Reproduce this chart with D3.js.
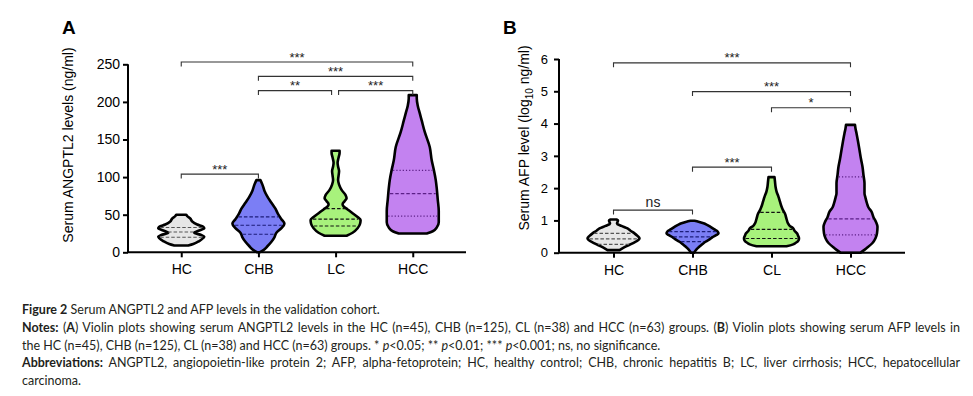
<!DOCTYPE html>
<html>
<head>
<meta charset="utf-8">
<script src="https://cdn.jsdelivr.net/npm/d3@7"></script>
<style>
  html, body { margin: 0; padding: 0; background: #fff; }
  svg { display: block; }
</style>
</head>
<body>
<svg id="chart" width="973" height="396"></svg>
<script>
// ---- data ----
const groupsA = ['HC', 'CHB', 'LC', 'HCC'];
const groupsB = ['HC', 'CHB', 'CL', 'HCC'];
const ticksA = [0, 50, 100, 150, 200, 250];
const ticksB = [0, 1, 2, 3, 4, 5, 6];

// violin outlines: [value, density (arbitrary units)]
const hcA = [[9, 7], [11, 12], [15, 18], [19, 22], [21, 23], [23, 20], [26, 13], [29, 18], [32, 23], [34, 22], [37, 16], [41, 11], [45, 9], [48, 6], [50, 5]];
const chbA = [[0, 1], [3, 5], [8, 9], [14, 13], [20, 16], [26, 18], [32, 23], [38, 26], [44, 23], [50, 20], [58, 17], [66, 13], [74, 9], [82, 6], [90, 4], [96, 2]];
const lcA = [[22, 11], [26, 17], [32, 22], [38, 24.5], [43, 25], [47, 22], [52, 17], [57, 12], [61, 8], [64, 7], [68, 9], [72, 11], [76, 10], [83, 6], [90, 3.5], [96, 2.5], [102, 3], [108, 3.5], [114, 2.5], [119, 2], [126, 3], [132, 4], [135, 4]];
const hccA = [[25, 14], [28, 20], [33, 24], [40, 26], [55, 26], [70, 25], [85, 24], [96, 23], [110, 21], [122, 19], [140, 17], [160, 12], [175, 9], [185, 7], [195, 5], [205, 4], [209, 4]];

const hcB = [[0.08, 6], [0.17, 11], [0.29, 19], [0.4, 25], [0.45, 26], [0.52, 24], [0.6, 21], [0.68, 17], [0.75, 14], [0.83, 8], [0.9, 3.5], [0.95, 4], [1.0, 4.5], [1.03, 3]];
const chbB = [[0.0, 1.5], [0.1, 4], [0.19, 7], [0.27, 10], [0.34, 13], [0.41, 17], [0.48, 20], [0.55, 24], [0.6, 26], [0.66, 25], [0.72, 22], [0.8, 18], [0.87, 14], [0.91, 11], [0.96, 6], [0.99, 2]];
const clB = [[0.2, 15], [0.25, 21], [0.3, 24], [0.38, 27], [0.45, 27.5], [0.53, 26.5], [0.6, 25.5], [0.68, 23], [0.76, 21.5], [0.84, 18], [0.91, 16.5], [1.05, 15], [1.22, 13.3], [1.32, 11.5], [1.43, 10], [1.58, 8.5], [1.73, 7], [1.9, 5], [2.05, 4], [2.2, 3.5], [2.34, 3]];
const hccB = [[0.0, 10], [0.14, 16], [0.3, 22], [0.45, 25], [0.6, 26.5], [0.8, 27], [0.95, 25.5], [1.1, 23], [1.27, 21], [1.4, 18], [1.53, 16.5], [1.7, 15], [1.84, 14], [2.0, 14], [2.15, 14], [2.4, 13], [2.66, 12], [2.9, 10.5], [3.18, 9], [3.45, 7.5], [3.7, 6], [3.85, 5], [3.96, 4.5]];

// quartiles [Q1, median, Q3]
const quartA = [[20, 27, 33], [24, 36, 47], [35, 44, 58], [48, 78, 109]];
const quartB = [[0.26, 0.43, 0.6], [0.34, 0.49, 0.65], [0.44, 0.72, 1.25], [0.55, 1.05, 2.35]];

// significance brackets: [from, to, level, label]
const sigA = [['HC', 'HCC', 253, '***'], ['CHB', 'HCC', 234, '***'], ['CHB', 'LC', 215, '**'], ['LC', 'HCC', 215, '***'], ['HC', 'CHB', 104, '***']];
const sigB = [['HC', 'HCC', 5.88, '***'], ['CHB', 'HCC', 4.99, '***'], ['CL', 'HCC', 4.49, '*'], ['CHB', 'CL', 2.65, '***'], ['HC', 'CHB', 1.32, 'ns']];

const fills = ['#e6e6e6', '#7b7ef5', '#a8f27c', '#c382f0'];
const lineCols = ['#555555', '#1c1c7a', '#111111', '#5b1f86'];

const svg = d3.select('#chart');
svg.append('rect').attr('width', 973).attr('height', 396).attr('fill', '#fff');

const FONT = '"Liberation Sans", Arial, sans-serif';

function panel(opt) {
  const g = svg.append('g').attr('font-family', FONT);
  const x = d3.scalePoint().domain(opt.groups).range(opt.xr).padding(0.69);
  const y = d3.scaleLinear().domain([0, opt.max]).range(opt.yr);
  const w = d3.scaleLinear().domain([0, 30]).range([0, 30]);

  // violins
  opt.violins.forEach((prof, i) => {
    const cx = x(opt.groups[i]);
    const area = d3.area().curve(d3.curveMonotoneY)
      .y(d => y(d[0]))
      .x0(d => cx - w(d[1]))
      .x1(d => cx + w(d[1]));
    g.append('path').attr('d', area(prof))
      .attr('fill', fills[i]).attr('stroke', '#000')
      .attr('stroke-width', 2.6).attr('stroke-linejoin', 'round');

    const halfAt = v => {
      for (let k = 0; k < prof.length - 1; k++) {
        if (v >= prof[k][0] && v <= prof[k + 1][0]) {
          const t = (v - prof[k][0]) / (prof[k + 1][0] - prof[k][0]);
          return w(prof[k][1] + t * (prof[k + 1][1] - prof[k][1]));
        }
      }
      return 0;
    };
    opt.quart[i].forEach((q, j) => {
      const hw = Math.max(0, halfAt(q) - 1.5);
      g.append('line')
        .attr('x1', cx - hw).attr('x2', cx + hw)
        .attr('y1', y(q)).attr('y2', y(q))
        .attr('stroke', lineCols[i]).attr('stroke-width', 1.2)
        .attr('stroke-dasharray', (i === 3 && j !== 1) ? '1.2,2' : '3.5,2');
    });
  });

  // y axis
  const ya = g.append('g').attr('transform', `translate(${opt.xr[0]},0)`)
    .call(d3.axisLeft(y).tickValues(opt.ticks).tickFormat(d3.format('d'))
      .tickSize(5).tickPadding(opt.tickPad));
  ya.select('.domain').attr('stroke-width', 2).attr('d', `M0,${opt.yr[1]}V${opt.yr[0]}`);
  ya.selectAll('.tick line').attr('stroke-width', 2);
  ya.selectAll('text').attr('font-size', opt.tickFont).attr('fill', '#000');

  // x axis
  const xa = g.append('g').attr('transform', `translate(0,${opt.yr[0]})`)
    .call(d3.axisBottom(x).tickSize(5).tickPadding(7));
  xa.select('.domain').attr('stroke-width', 2).attr('d', `M${opt.xr[0]},0H${opt.xr[1]}`);
  xa.selectAll('.tick line').attr('stroke-width', 2);
  xa.selectAll('text').attr('font-size', 14).attr('fill', '#000');

  // brackets
  opt.sig.forEach(s => {
    let x1 = x(s[0]), x2 = x(s[1]);
    // leave a small gap where two brackets share a level and a group
    opt.sig.forEach(o => {
      if (o !== s && o[2] === s[2]) {
        if (o[0] === s[1]) x2 -= 4;
        if (o[1] === s[0]) x1 += 3;
      }
    });
    const yy = y(s[2]);
    g.append('path')
      .attr('d', `M${x1},${yy + 4.5}V${yy}H${x2}V${yy + 4.5}`)
      .attr('fill', 'none').attr('stroke', '#333').attr('stroke-width', 1.1);
    const ns = s[3] === 'ns';
    g.append('text')
      .attr('x', (x1 + x2) / 2).attr('y', ns ? yy - 3 : yy - 0.5)
      .attr('text-anchor', 'middle')
      .attr('font-size', ns ? 14 : 13).attr('fill', '#222')
      .text(s[3]);
  });

  // y label
  const lab = g.append('text')
    .attr('transform', `translate(${opt.labX},${opt.labY}) rotate(-90)`)
    .attr('text-anchor', 'middle').attr('font-size', 14).attr('fill', '#000');
  opt.label(lab);

  // panel letter
  g.append('text').attr('x', opt.letterX).attr('y', 34)
    .attr('font-size', 19).attr('font-weight', 'bold').text(opt.letter);
}

panel({
  groups: groupsA, xr: [128, 466], yr: [252.3, 64.3], max: 250, ticks: ticksA,
  tickPad: 3, tickFont: 14,
  violins: [hcA, chbA, lcA, hccA], quart: quartA, sig: sigA,
  labX: 73, labY: 145, letter: 'A', letterX: 62,
  label: t => t.text('Serum ANGPTL2 levels (ng/ml)')
});

panel({
  groups: groupsB, xr: [559, 905], yr: [252.7, 59], max: 6, ticks: ticksB,
  tickPad: 6, tickFont: 13,
  violins: [hcB, chbB, clB, hccB], quart: quartB, sig: sigB,
  labX: 529, labY: 138, letter: 'B', letterX: 503,
  label: t => {
    t.append('tspan').text('Serum AFP level (log');
    t.append('tspan').attr('font-size', 10).attr('dy', 4).text('10');
    t.append('tspan').attr('dy', -4).text(' ng/ml)');
  }
});

// ---- caption ----
const CAP = 'Lato, "Open Sans", sans-serif';
const captionLines = [
  [['b', 'Figure 2'], ['n', ' Serum ANGPTL2 and AFP levels in the validation cohort.']],
  [['b', 'Notes:'], ['n', ' ('], ['b', 'A'], ['n', ') Violin plots showing serum ANGPTL2 levels in the HC (n=45), CHB (n=125), CL (n=38) and HCC (n=63) groups. ('], ['b', 'B'], ['n', ') Violin plots showing serum AFP levels in']],
  [['n', 'the HC (n=45), CHB (n=125), CL (n=38) and HCC (n=63) groups. * '], ['i', 'p'], ['n', '<0.05; ** '], ['i', 'p'], ['n', '<0.01; *** '], ['i', 'p'], ['n', '<0.001; ns, no significance.']],
  [['b', 'Abbreviations:'], ['n', ' ANGPTL2, angiopoietin-like protein 2; AFP, alpha-fetoprotein; HC, healthy control; CHB, chronic hepatitis B; LC, liver cirrhosis; HCC, hepatocellular']],
  [['n', 'carcinoma.']]
];
const justify = [false, true, false, true, false];
const cap = svg.append('g').attr('font-family', CAP).attr('font-size', 12.5).attr('fill', '#231f20');
captionLines.forEach((line, i) => {
  const t = cap.append('text').attr('x', 22).attr('y', 314 + i * 17.8).attr('xml:space', 'preserve');
  line.forEach(p => {
    t.append('tspan')
      .attr('font-weight', p[0] === 'b' ? 'bold' : null)
      .attr('font-style', p[0] === 'i' ? 'italic' : null)
      .text(p[1]);
  });
  if (justify[i]) {
    const natural = t.node().getComputedTextLength();
    const spaces = line.map(p => p[1]).join('').split(' ').length - 1;
    t.attr('word-spacing', (938 - natural) / spaces);
  }
});
</script>
</body>
</html>
